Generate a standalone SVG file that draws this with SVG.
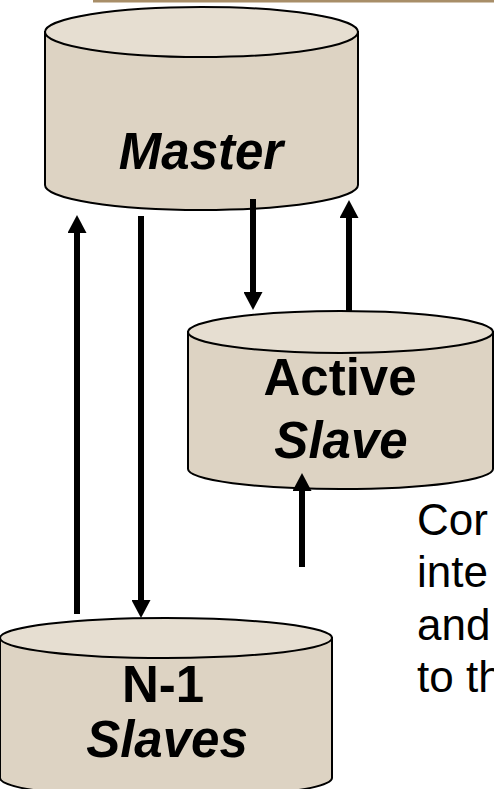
<svg xmlns="http://www.w3.org/2000/svg" width="494" height="789" viewBox="0 0 494 789">
<style>
.body{fill:#DDD3C3;stroke:#000;stroke-width:2}
.top{fill:#E6DED1;stroke:#000;stroke-width:2}
.lbl{font-family:"Liberation Sans",Arial,sans-serif;font-size:51px;font-weight:bold;fill:#000;text-anchor:middle}
.it{font-style:italic}
.note{font-family:"Liberation Sans",Arial,sans-serif;font-size:44px;fill:#000}
.arr{stroke:#000;stroke-width:6;fill:none;marker-end:url(#ah)}
</style>
<defs>
<marker id="ah" markerUnits="userSpaceOnUse" markerWidth="19" markerHeight="19" viewBox="0 0 19 19" refX="1" refY="9.5" orient="auto">
<path d="M0,0 L18,9.5 L0,19 Z" fill="#000"/>
</marker>
</defs>
<rect x="93" y="0" width="401" height="2.5" fill="#A88E68"/>
<g id="master">
<path class="body" d="M45,32 L45,185 A156.5,25 0 0 0 358,185 L358,32 Z"/>
<ellipse class="top" cx="201.5" cy="32" rx="156.5" ry="25"/>
<text class="lbl it" x="201" y="169">Master</text>
</g>
<g id="active-slave">
<path class="body" d="M188,332 L188,469 A152.5,20 0 0 0 493,469 L493,332 Z"/>
<ellipse class="top" cx="340.5" cy="332" rx="152.5" ry="21"/>
<text class="lbl" x="340" y="395">Active</text>
<text class="lbl it" x="341" y="458">Slave</text>
</g>
<g id="n1-slaves">
<path class="body" d="M0,638 L0,778 A166,20 0 0 0 332,778 L332,638 Z"/>
<ellipse class="top" cx="166" cy="638" rx="166" ry="20"/>
<text class="lbl" x="163" y="702">N-1</text>
<text class="lbl it" x="167" y="757">Slaves</text>
</g>
<g id="connectors">
<line class="arr" x1="77" y1="614" x2="77" y2="232"/>
<line class="arr" x1="141" y1="216" x2="141" y2="601"/>
<line class="arr" x1="253" y1="199" x2="253" y2="293"/>
<line class="arr" x1="349" y1="311" x2="349" y2="217"/>
<line class="arr" x1="302" y1="567" x2="302" y2="490"/>
</g>
<g id="note">
<text class="note" x="417" y="535">Cor</text>
<text class="note" x="417" y="587">inte</text>
<text class="note" x="417" y="640">and</text>
<text class="note" x="417" y="692">to th</text>
</g>
</svg>
